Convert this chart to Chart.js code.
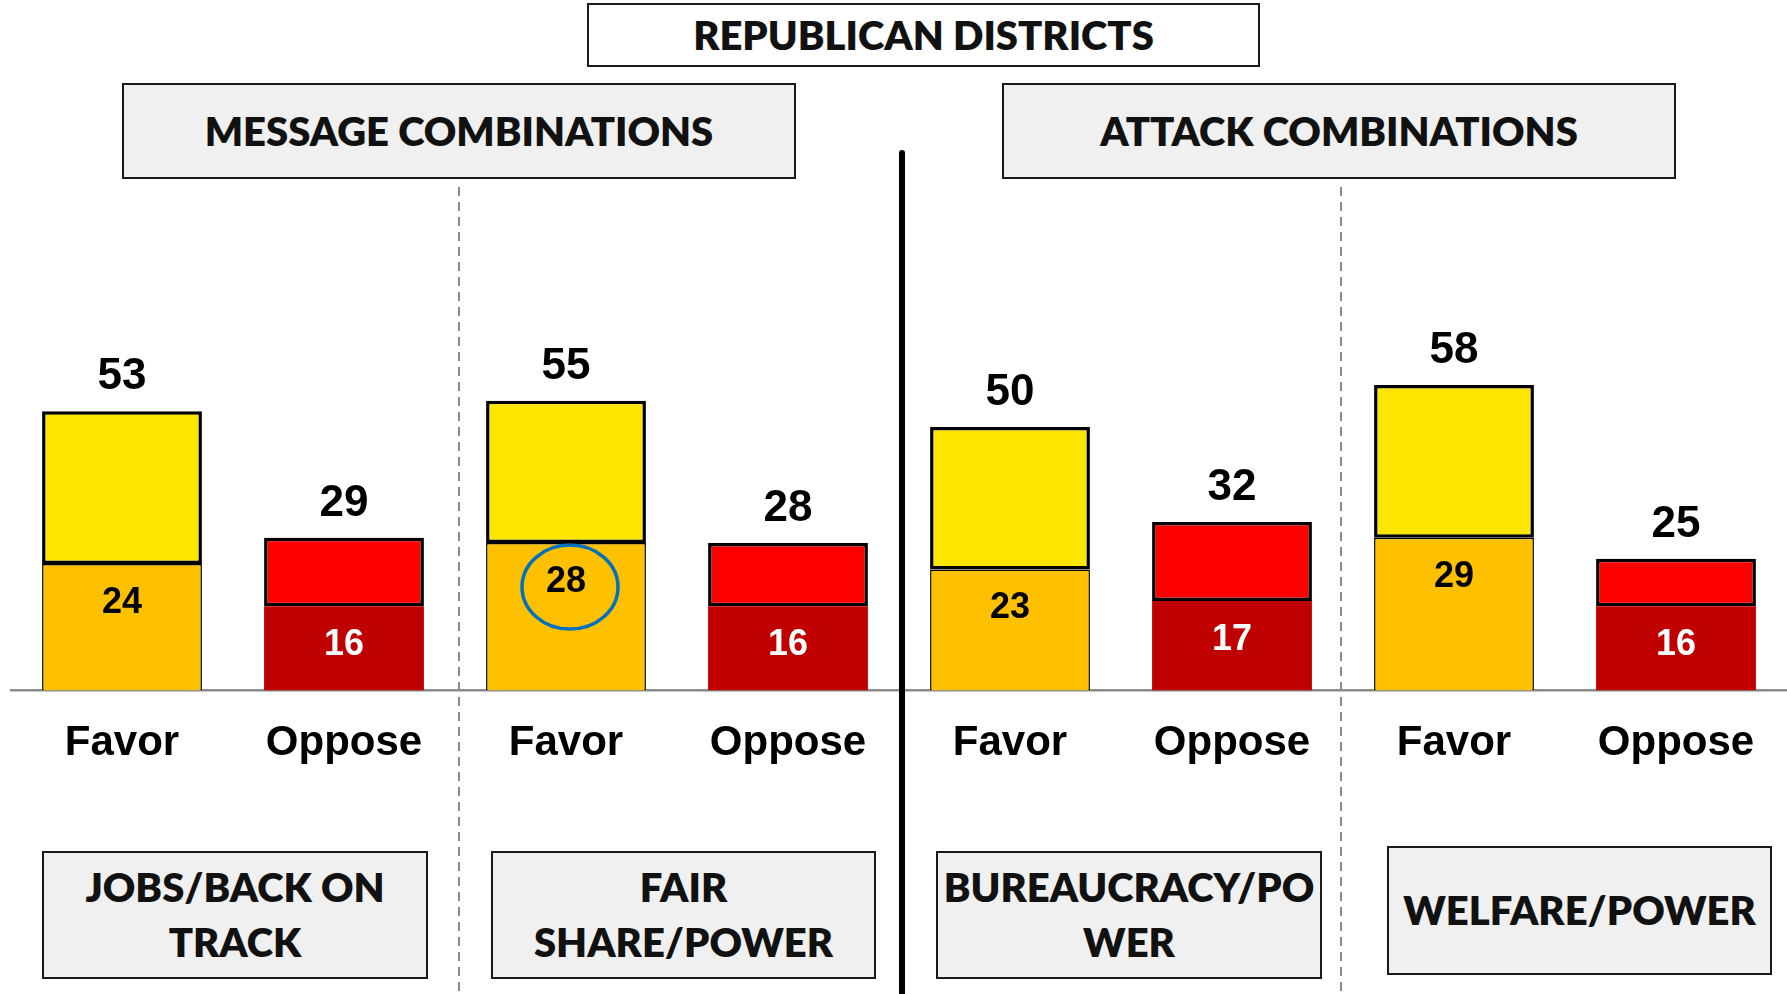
<!DOCTYPE html>
<html><head><meta charset="utf-8">
<script src="https://cdn.jsdelivr.net/npm/chart.js@4.4.1/dist/chart.umd.min.js"></script>
<style>
html,body{margin:0;padding:0;background:#fff;}
#wrap{position:relative;width:1787px;height:994px;overflow:hidden;}
#chartBox{position:absolute;left:0;top:0;width:1787px;height:994px;}
.box{position:absolute;box-sizing:border-box;border:2px solid #1a1a1a;background:#f0f0f0;display:flex;align-items:center;justify-content:center;text-align:center;font-family:Lato,'Open Sans',sans-serif;font-weight:800;font-size:40px;color:#111;line-height:55px;}
</style></head>
<body><div id="wrap"><div id="chartBox"><canvas id="c"></canvas></div></div>
<script>
// ---- data ----
const categories = ['Favor','Oppose','Favor','Oppose','Favor','Oppose','Favor','Oppose'];
const baseValues = [24,16,28,16,23,17,29,16];
const totalValues = [53,29,55,28,50,32,58,25];
const pageTitle = 'REPUBLICAN DISTRICTS';
const groupTitles = ['MESSAGE COMBINATIONS','ATTACK COMBINATIONS'];
const pairTitles = ['JOBS/BACK ON<br>TRACK','FAIR<br>SHARE/POWER','BUREAUCRACY/PO<br>WER','WELFARE/POWER'];
const highlightIndex = 2;

// ---- styles ----
const baseColors = ['#FFC000','#C00000','#FFC000','#C00000','#FFC000','#C00000','#FFC000','#C00000'];
const topColors  = ['#FFE600','#FF0000','#FFE600','#FF0000','#FFE600','#FF0000','#FFE600','#FF0000'];
const innerTextColors = ['#000','#fff','#000','#fff','#000','#fff','#000','#fff'];

const topValues = totalValues.map((t,i)=>t-baseValues[i]);

// ---- boxes (HTML text) ----
const wrap = document.getElementById('wrap');
function addBox(html, l, t, w, h, bg){
  const d = document.createElement('div');
  d.className='box'; d.innerHTML = html;
  d.style.left=l+'px'; d.style.top=t+'px'; d.style.width=w+'px'; d.style.height=h+'px';
  if(bg) d.style.background=bg;
  wrap.appendChild(d);
}
addBox(pageTitle, 587, 3, 673, 64, '#fff');
addBox(groupTitles[0], 122, 83, 674, 96);
addBox(groupTitles[1], 1002, 83, 674, 96);
addBox(pairTitles[0], 42, 851, 386, 128);
addBox(pairTitles[1], 491, 851, 385, 128);
addBox(pairTitles[2], 936, 851, 386, 128);
addBox(pairTitles[3], 1387, 846, 385, 129);

const decor = {
  id:'decor',
  beforeDatasetsDraw(chart){
    const ctx = chart.ctx, xs = chart.scales.x;
    const mid = (a,b)=> (xs.getPixelForValue(a)+xs.getPixelForValue(b))/2;
    ctx.save();
    ctx.strokeStyle='#8a8a8a'; ctx.lineWidth=2; ctx.setLineDash([9,6]);
    [mid(1,2)+4, mid(5,6)-2].forEach(x=>{
      ctx.beginPath(); ctx.moveTo(x,187); ctx.lineTo(x,994); ctx.stroke();
    });
    ctx.setLineDash([]);
    ctx.strokeStyle='#000'; ctx.lineWidth=6; ctx.lineCap='round';
    const sx = mid(3,4)+3;
    ctx.beginPath(); ctx.moveTo(sx,153); ctx.lineTo(sx,1000); ctx.stroke();
    ctx.restore();
  },
  afterDatasetsDraw(chart){
    const ctx = chart.ctx;
    const m0 = chart.getDatasetMeta(0).data, m1 = chart.getDatasetMeta(1).data;
    ctx.save();
    ctx.textAlign='center'; ctx.textBaseline='middle';
    for(let i=0;i<categories.length;i++){
      ctx.fillStyle='#000';
      ctx.font='bold 44px "Liberation Sans", Arial, sans-serif';
      ctx.fillText(String(totalValues[i]), m1[i].x, m1[i].y-34);
      ctx.fillStyle=innerTextColors[i];
      ctx.font='bold 36px "Liberation Sans", Arial, sans-serif';
      ctx.fillText(String(baseValues[i]), m0[i].x, m0[i].y+39);
    }
    const h = m0[highlightIndex];
    ctx.strokeStyle='#0070C0'; ctx.lineWidth=3.5;
    ctx.beginPath(); ctx.ellipse(h.x+4, h.y+44, 48, 42, 0, 0, Math.PI*2); ctx.stroke();
    ctx.restore();
  }
};

new Chart(document.getElementById('c'), {
  type:'bar',
  data:{
    labels:categories,
    datasets:[
      {data:baseValues, backgroundColor:baseColors, borderColor:'#000',
       borderWidth:baseColors.map(c=>c==='#FFC000'?1.5:0), borderSkipped:'bottom'},
      {data:topValues, backgroundColor:topColors, borderColor:'#000', borderWidth:3.5, borderSkipped:false}
    ]
  },
  options:{
    responsive:true, maintainAspectRatio:false, animation:false,
    datasets:{bar:{categoryPercentage:1, barPercentage:0.72}},
    layout:{padding:{left:11, top:163.6, right:0, bottom:0}},
    plugins:{legend:{display:false}, tooltip:{enabled:false}, title:{display:false}},
    scales:{
      x:{stacked:true, grid:{display:false, drawTicks:false},
         border:{display:true, color:'#8c8c8c', width:2.5},
         ticks:{color:'#000', padding:28, font:{family:'"Liberation Sans", Arial, sans-serif', size:42, weight:'bold'}},
         afterFit(s){ s.height = 994-690.6; }},
      y:{stacked:true, display:false, min:0, max:100}
    }
  },
  plugins:[decor]
});
</script>
</body></html>
